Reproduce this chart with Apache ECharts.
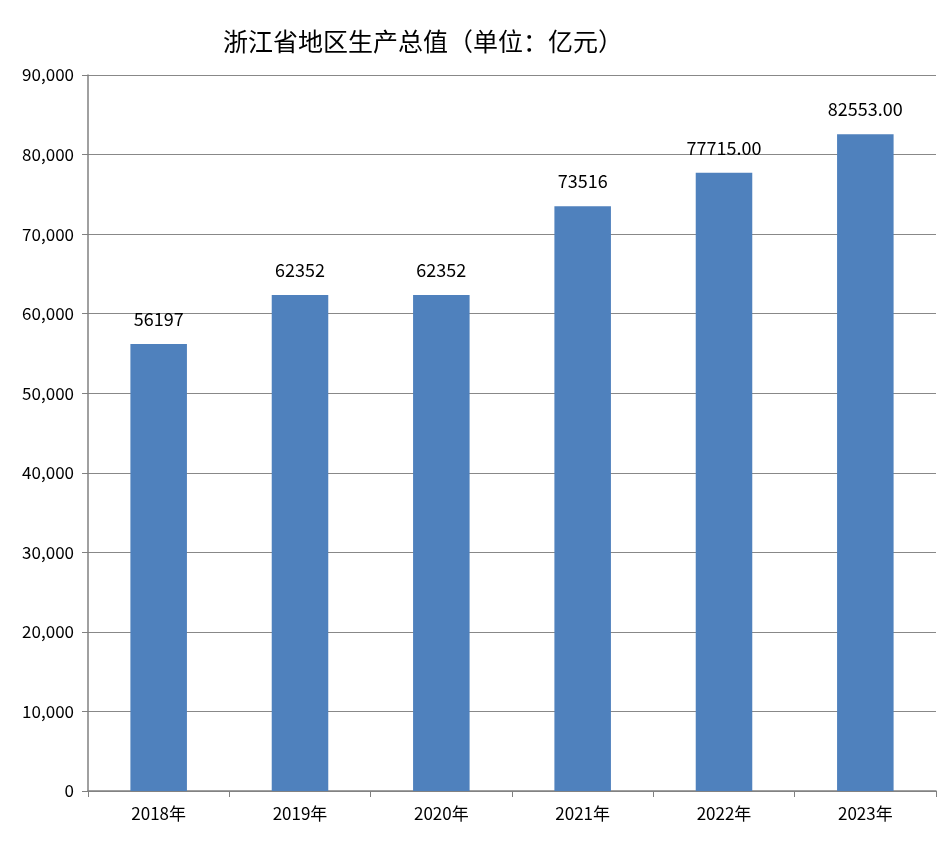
<!DOCTYPE html>
<html>
<head>
<meta charset="utf-8">
<script src="https://cdn.jsdelivr.net/npm/echarts@6/dist/echarts.min.js"></script>
<style>
  html, body { margin: 0; padding: 0; background: #fff; }
  #chart { width: 945px; height: 842px; }
</style>
</head>
<body>
<div id="chart"></div>
<script>
const categories = ['2018年', '2019年', '2020年', '2021年', '2022年', '2023年']
const values = [56197, 62352, 62352, 73516, 77715, 82553]
const valueLabels = ['56197', '62352', '62352', '73516', '77715.00', '82553.00']

const myChart = echarts.init(document.getElementById('chart'))
const font = '"Noto Sans CJK SC", "Noto Sans", sans-serif'

const option = {
  backgroundColor: '#ffffff',
  animation: false,
  title: {
    text: '浙江省地区生产总值（单位：亿元）',
    left: 418,
    top: 24,
    textAlign: 'center',
    textStyle: { fontFamily: font, fontSize: 25, fontWeight: 'normal', color: '#000' }
  },
  grid: { left: 88, right: 9, top: 75, bottom: 51 },
  xAxis: {
    type: 'category',
    data: categories,
    axisLine: { lineStyle: { color: '#808080', width: 1.5 } },
    axisTick: { show: true, length: 6, lineStyle: { color: '#808080' } },
    axisLabel: { fontFamily: font, fontSize: 17, color: '#000', margin: 14 }
  },
  yAxis: {
    type: 'value',
    min: 0,
    max: 90000,
    interval: 10000,
    axisLine: { show: true, lineStyle: { color: '#808080', width: 1.5 } },
    axisTick: { show: true, length: 6, lineStyle: { color: '#808080' } },
    splitLine: { lineStyle: { color: '#888888', width: 1.2 } },
    axisLabel: { fontFamily: font, fontSize: 17, color: '#000', margin: 14 }
  },
  series: [
    {
      type: 'bar',
      data: values,
      barWidth: '40%',
      itemStyle: { color: '#4f81bd' },
      label: {
        show: true,
        position: 'top',
        distance: 16,
        fontFamily: font,
        fontSize: 18,
        color: '#000',
        formatter: p => valueLabels[p.dataIndex]
      }
    }
  ]
}
myChart.setOption(option)
</script>
</body>
</html>
